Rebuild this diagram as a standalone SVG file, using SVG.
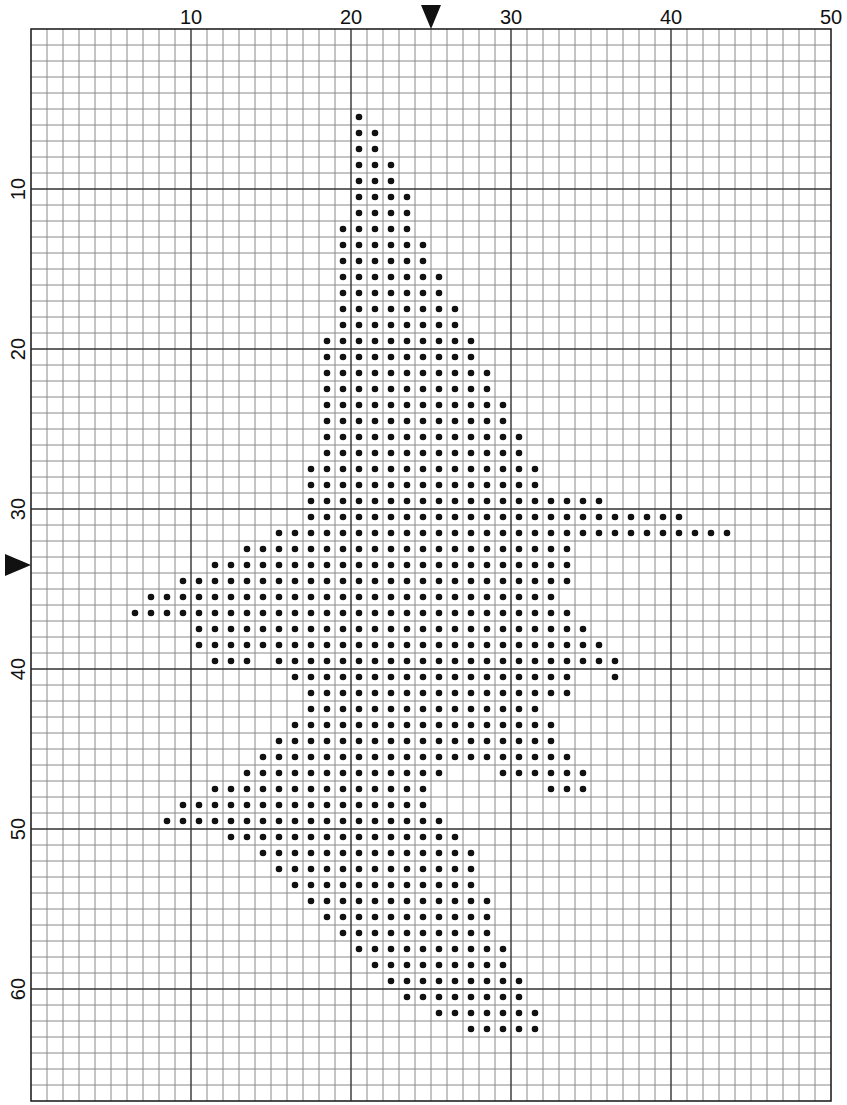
<svg xmlns="http://www.w3.org/2000/svg" width="847" height="1105" viewBox="0 0 847 1105">
<style>
.minor{stroke:#8a8a8a;stroke-width:1;fill:none}
.major{stroke:#333;stroke-width:1.4;fill:none}
.border{stroke:#222;stroke-width:1.6;fill:none}
.lbl{font-family:"Liberation Sans",Arial,sans-serif;font-size:20px;fill:#111;text-anchor:middle}
.dots line{stroke:#111;stroke-width:6.6;stroke-linecap:round;stroke-dasharray:0 16}
.mark{fill:#111}
</style>
<rect width="847" height="1105" fill="#fff"/>
<g id="grid">
<path class="minor" d="M47 29V1101M63 29V1101M79 29V1101M95 29V1101M111 29V1101M127 29V1101M143 29V1101M159 29V1101M175 29V1101M207 29V1101M223 29V1101M239 29V1101M255 29V1101M271 29V1101M287 29V1101M303 29V1101M319 29V1101M335 29V1101M367 29V1101M383 29V1101M399 29V1101M415 29V1101M431 29V1101M447 29V1101M463 29V1101M479 29V1101M495 29V1101M527 29V1101M543 29V1101M559 29V1101M575 29V1101M591 29V1101M607 29V1101M623 29V1101M639 29V1101M655 29V1101M687 29V1101M703 29V1101M719 29V1101M735 29V1101M751 29V1101M767 29V1101M783 29V1101M799 29V1101M815 29V1101"/>
<path class="minor" d="M31 45H831M31 61H831M31 77H831M31 93H831M31 109H831M31 125H831M31 141H831M31 157H831M31 173H831M31 205H831M31 221H831M31 237H831M31 253H831M31 269H831M31 285H831M31 301H831M31 317H831M31 333H831M31 365H831M31 381H831M31 397H831M31 413H831M31 429H831M31 445H831M31 461H831M31 477H831M31 493H831M31 525H831M31 541H831M31 557H831M31 573H831M31 589H831M31 605H831M31 621H831M31 637H831M31 653H831M31 685H831M31 701H831M31 717H831M31 733H831M31 749H831M31 765H831M31 781H831M31 797H831M31 813H831M31 845H831M31 861H831M31 877H831M31 893H831M31 909H831M31 925H831M31 941H831M31 957H831M31 973H831M31 1005H831M31 1021H831M31 1037H831M31 1053H831M31 1069H831M31 1085H831"/>
<path class="major" d="M191 29V1101M351 29V1101M511 29V1101M671 29V1101M31 189H831M31 349H831M31 509H831M31 669H831M31 829H831M31 989H831"/>
<rect class="border" x="31" y="29" width="800" height="1072"/>
</g>
<g id="labels">
<text class="lbl" x="191" y="24">10</text>
<text class="lbl" x="351" y="24">20</text>
<text class="lbl" x="511" y="24">30</text>
<text class="lbl" x="671" y="24">40</text>
<text class="lbl" x="831" y="24">50</text>
<text class="lbl" transform="translate(25,189) rotate(-90)">10</text>
<text class="lbl" transform="translate(25,349) rotate(-90)">20</text>
<text class="lbl" transform="translate(25,509) rotate(-90)">30</text>
<text class="lbl" transform="translate(25,669) rotate(-90)">40</text>
<text class="lbl" transform="translate(25,829) rotate(-90)">50</text>
<text class="lbl" transform="translate(25,989) rotate(-90)">60</text>
</g>
<g id="markers">
<polygon class="mark" points="421,5 441,5 431,29"/>
<polygon class="mark" points="5,554 5,576 31,565"/>
</g>
<g id="dots" class="dots">
<line x1="359" y1="117" x2="359.5" y2="117"/>
<line x1="359" y1="133" x2="375.5" y2="133"/>
<line x1="359" y1="149" x2="375.5" y2="149"/>
<line x1="359" y1="165" x2="391.5" y2="165"/>
<line x1="359" y1="181" x2="391.5" y2="181"/>
<line x1="359" y1="197" x2="407.5" y2="197"/>
<line x1="359" y1="213" x2="407.5" y2="213"/>
<line x1="343" y1="229" x2="407.5" y2="229"/>
<line x1="343" y1="245" x2="423.5" y2="245"/>
<line x1="343" y1="261" x2="423.5" y2="261"/>
<line x1="343" y1="277" x2="439.5" y2="277"/>
<line x1="343" y1="293" x2="439.5" y2="293"/>
<line x1="343" y1="309" x2="455.5" y2="309"/>
<line x1="343" y1="325" x2="455.5" y2="325"/>
<line x1="327" y1="341" x2="471.5" y2="341"/>
<line x1="327" y1="357" x2="471.5" y2="357"/>
<line x1="327" y1="373" x2="487.5" y2="373"/>
<line x1="327" y1="389" x2="487.5" y2="389"/>
<line x1="327" y1="405" x2="503.5" y2="405"/>
<line x1="327" y1="421" x2="503.5" y2="421"/>
<line x1="327" y1="437" x2="519.5" y2="437"/>
<line x1="327" y1="453" x2="519.5" y2="453"/>
<line x1="311" y1="469" x2="535.5" y2="469"/>
<line x1="311" y1="485" x2="535.5" y2="485"/>
<line x1="311" y1="501" x2="599.5" y2="501"/>
<line x1="311" y1="517" x2="679.5" y2="517"/>
<line x1="279" y1="533" x2="727.5" y2="533"/>
<line x1="247" y1="549" x2="567.5" y2="549"/>
<line x1="215" y1="565" x2="567.5" y2="565"/>
<line x1="183" y1="581" x2="567.5" y2="581"/>
<line x1="151" y1="597" x2="551.5" y2="597"/>
<line x1="135" y1="613" x2="567.5" y2="613"/>
<line x1="199" y1="629" x2="583.5" y2="629"/>
<line x1="199" y1="645" x2="599.5" y2="645"/>
<line x1="215" y1="661" x2="247.5" y2="661"/>
<line x1="279" y1="661" x2="615.5" y2="661"/>
<line x1="295" y1="677" x2="567.5" y2="677"/>
<line x1="615" y1="677" x2="615.5" y2="677"/>
<line x1="311" y1="693" x2="567.5" y2="693"/>
<line x1="311" y1="709" x2="535.5" y2="709"/>
<line x1="295" y1="725" x2="551.5" y2="725"/>
<line x1="279" y1="741" x2="551.5" y2="741"/>
<line x1="263" y1="757" x2="567.5" y2="757"/>
<line x1="247" y1="773" x2="439.5" y2="773"/>
<line x1="503" y1="773" x2="583.5" y2="773"/>
<line x1="215" y1="789" x2="423.5" y2="789"/>
<line x1="551" y1="789" x2="583.5" y2="789"/>
<line x1="183" y1="805" x2="423.5" y2="805"/>
<line x1="167" y1="821" x2="439.5" y2="821"/>
<line x1="231" y1="837" x2="455.5" y2="837"/>
<line x1="263" y1="853" x2="471.5" y2="853"/>
<line x1="279" y1="869" x2="471.5" y2="869"/>
<line x1="295" y1="885" x2="471.5" y2="885"/>
<line x1="311" y1="901" x2="487.5" y2="901"/>
<line x1="327" y1="917" x2="487.5" y2="917"/>
<line x1="343" y1="933" x2="487.5" y2="933"/>
<line x1="359" y1="949" x2="503.5" y2="949"/>
<line x1="375" y1="965" x2="503.5" y2="965"/>
<line x1="391" y1="981" x2="519.5" y2="981"/>
<line x1="407" y1="997" x2="519.5" y2="997"/>
<line x1="439" y1="1013" x2="535.5" y2="1013"/>
<line x1="471" y1="1029" x2="535.5" y2="1029"/>
</g>
</svg>
